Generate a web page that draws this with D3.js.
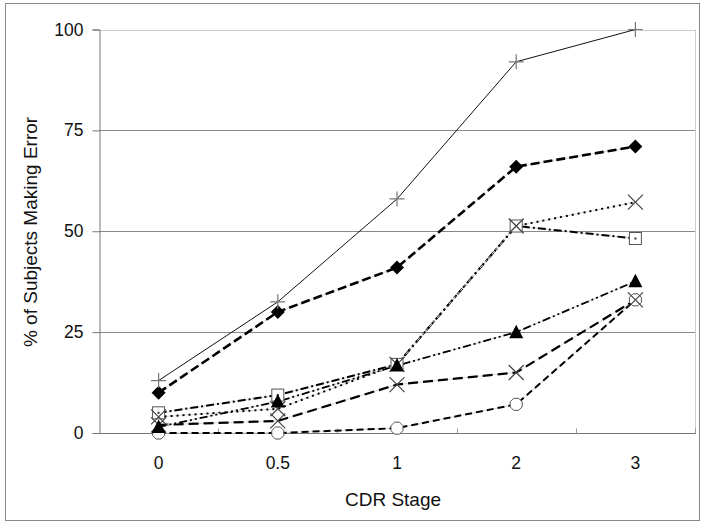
<!DOCTYPE html>
<html><head><meta charset="utf-8">
<script src="https://cdn.jsdelivr.net/npm/d3@7"></script>
<style>body{margin:0;background:#fff}svg{display:block}text{font-family:"Liberation Sans",Arial,sans-serif;fill:#111}</style>
</head><body><svg id="c" width="706" height="527"></svg>
<script>
const categories = ["0","0.5","1","2","3"];
const yTicks = [0,25,50,75,100];
const seriesPlus     = [13, 32.5, 58, 92, 100];
const seriesDiamond  = [10, 30, 41, 66, 71];
const seriesStarX    = [4, 6, 17, 51.3, 57.2];
const seriesSquare   = [5, 9.4, 17, 51.3, 48.2];
const seriesTriangle = [1.5, 7.8, 16.7, 25, 37.6];
const seriesCrossX   = [2, 3, 12, 15, 33];
const seriesCircle   = [0, 0, 1.2, 7.1, 33];

const series = [
  {v: seriesCircle,   dash: "7,4", w: 2, m: "circle"},
  {v: seriesCrossX,   dash: "10,5", w: 2.2, m: "x"},
  {v: seriesSquare,   dash: "8,3,2,3", w: 2, m: "square"},
  {v: seriesStarX,    dash: "2,4", w: 2, m: "x"},
  {v: seriesTriangle, dash: "8,3,2,3,2,3", w: 1.8, m: "triangle"},
  {v: seriesDiamond,  dash: "9,4", w: 2.6, m: "diamond"},
  {v: seriesPlus,     dash: null, w: 1, m: "plus"}
];

const svg = d3.select("#c");
const L = 99, R = 695, T = 29.5, B = 433;
const x = d3.scaleBand().domain(categories).range([L, R]);
const y = d3.scaleLinear().domain([0, 100]).range([B, T]);

svg.append("rect").attr("x",5.5).attr("y",3.5).attr("width",694).attr("height",517)
  .attr("fill","none").attr("stroke","#888").attr("stroke-width",1);

svg.append("line").attr("x1",R+0.5).attr("x2",R+0.5).attr("y1",T).attr("y2",B).attr("stroke","#ccc");
svg.append("g").selectAll("line").data(yTicks.filter(d=>d>0)).join("line")
  .attr("x1",L).attr("x2",R).attr("y1",d=>Math.round(y(d))+0.5).attr("y2",d=>Math.round(y(d))+0.5)
  .attr("stroke",d=>d===100?"#ccc":"#888").attr("stroke-width",1);

const ya = svg.append("g").attr("transform",`translate(${L+0.5},0)`)
  .call(d3.axisLeft(y).tickValues(yTicks).tickSize(7).tickPadding(9));
ya.select(".domain").attr("stroke","#777");
ya.selectAll(".tick line").attr("stroke","#777");
ya.selectAll("text").style("font-size","17.5px").attr("fill","#111");

const xa = svg.append("g").attr("transform",`translate(0,${B+0.5})`);
xa.append("line").attr("x1",L).attr("x2",R+1).attr("stroke","#777");
const bounds = categories.map(c => x(c) + x.bandwidth());
xa.selectAll("line.t").data(bounds).join("line").attr("class","t")
  .attr("x1",d=>Math.round(d)+0.5).attr("x2",d=>Math.round(d)+0.5).attr("y1",0).attr("y2",-5)
  .attr("stroke","#999");
xa.selectAll("text").data(categories).join("text")
  .attr("x",d=>x(d)+x.bandwidth()/2).attr("y",35.5).attr("text-anchor","middle")
  .style("font-size","17.5px").text(d=>d);

svg.append("text").attr("x",393).attr("y",506).attr("text-anchor","middle")
  .style("font-size","19px").text("CDR Stage");
svg.append("text").attr("transform","translate(37,232) rotate(-90)").attr("text-anchor","middle")
  .style("font-size","19px").text("% of Subjects Making Error");

const cx = c => x(c) + x.bandwidth()/2;
const line = d3.line().x((d,i)=>cx(categories[i])).y(d=>y(d));

series.forEach(s => {
  if (s.dash) {
    svg.append("path").attr("d",line(s.v)).attr("fill","none").attr("stroke","#d8d8d8").attr("stroke-width",1);
    svg.append("path").attr("d",line(s.v)).attr("fill","none").attr("stroke","#000")
      .attr("stroke-width",s.w).attr("stroke-dasharray",s.dash);
  } else {
    svg.append("path").attr("d",line(s.v)).attr("fill","none").attr("stroke","#111").attr("stroke-width",s.w);
  }
});

function marker(g, m) {
  if (m === "plus") {
    g.append("path").attr("d","M-7.5,0H7.5M0,-7.5V7.5").attr("stroke","#777").attr("stroke-width",1.2);
  } else if (m === "diamond") {
    g.append("path").attr("d","M0,-7L7,0L0,7L-7,0Z").attr("fill","#000");
  } else if (m === "triangle") {
    g.append("path").attr("d","M0,-7.5L7,6L-7,6Z").attr("fill","#000");
  } else if (m === "x") {
    g.append("path").attr("d","M-7.5,-7.5L7.5,7.5M7.5,-7.5L-7.5,7.5").attr("stroke","#444").attr("stroke-width",1.2);
  } else if (m === "square") {
    g.append("rect").attr("x",-6).attr("y",-6).attr("width",12).attr("height",12)
      .attr("fill","#fff").attr("stroke","#555").attr("stroke-width",1);
    g.append("rect").attr("x",-1).attr("y",-1).attr("width",2).attr("height",2).attr("fill","#333");
  } else if (m === "circle") {
    g.append("path").attr("d",d3.line().curve(d3.curveLinearClosed)(d3.range(8).map(i=>{const a=Math.PI/8+i*Math.PI/4;return [6.5*Math.cos(a),6.5*Math.sin(a)];})))
      .attr("fill","#fff").attr("stroke","#555").attr("stroke-width",1);
  }
}

series.forEach(s => {
  s.v.forEach((v,i) => {
    const g = svg.append("g").attr("transform",`translate(${cx(categories[i])},${y(v)})`);
    marker(g, s.m);
  });
});
</script></body></html>
